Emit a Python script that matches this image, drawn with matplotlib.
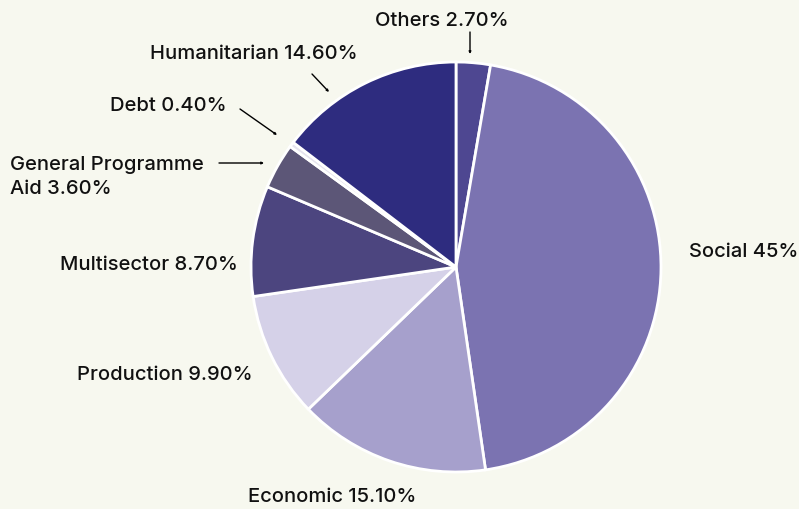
import matplotlib.pyplot as plt

# sector shares, clockwise from 12 o'clock
sectors = ['Others', 'Social', 'Economic', 'Production', 'Multisector',
           'General Programme\nAid', 'Debt', 'Humanitarian']
shares = [2.7, 45, 15.1, 9.9, 8.7, 3.6, 0.4, 14.6]
share_text = ['2.70%', '45%', '15.10%', '9.90%', '8.70%', '3.60%', '0.40%', '14.60%']
colors = ['#4e4791', '#7b73b1', '#a6a0cc', '#d5d1e8', '#4c457f',
          '#5c5677', '#e6e4ee', '#2e2c7f']

bg = '#f7f8ef'
W, H = 799, 509

fig = plt.figure(figsize=(W / 100, H / 100), dpi=100, facecolor=bg)
ax = fig.add_axes([0, 0, 1, 1])
ax.set_facecolor(bg)

ax.pie(shares, colors=colors, startangle=90, counterclock=False,
       center=(456, H - 267), radius=205, frame=True,
       wedgeprops=dict(edgecolor='white', linewidth=2))
ax.set_xlim(0, W)
ax.set_ylim(0, H)
ax.set_aspect('equal')
ax.axis('off')

labels = [f'{s} {t}' for s, t in zip(sectors, share_text)]
font = dict(family='Inter', fontsize=14.5, fontweight='medium', color='#111111')

# label anchors in pixel coords (left x, centre y)
label_pos = [(375, 21), (689, 252), (248, 497), (77, 375), (60, 265),
             (10, 177), (110, 106), (150, 54)]
for lab, (x, y) in zip(labels, label_pos):
    ax.text(x, H - y, lab, ha='left', va='center', linespacing=1.45, **font)

# leader lines for the small slices
leaders = [((470, 32), (470, 54)),
           ((312, 74), (329, 92)),
           ((240, 109), (277, 135)),
           ((219, 163), (264, 163))]
for (x0, y0), (x1, y1) in leaders:
    ax.annotate('', xy=(x1, H - y1), xytext=(x0, H - y0),
                arrowprops=dict(arrowstyle='-|>', color='black', lw=1,
                                mutation_scale=3, shrinkA=0, shrinkB=0))

fig.savefig('out.png', dpi=100, facecolor=bg)
